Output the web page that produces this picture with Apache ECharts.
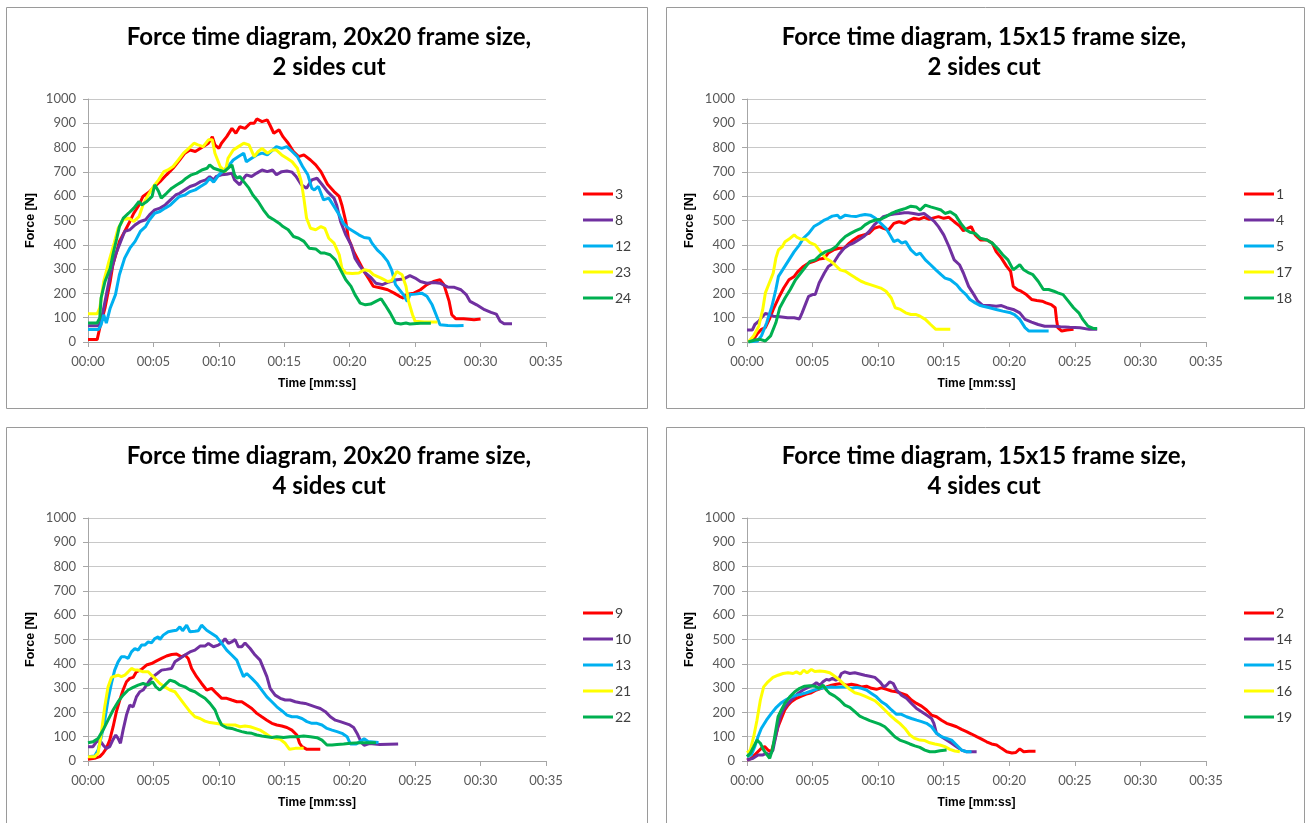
<!DOCTYPE html>
<html>
<head>
<meta charset="utf-8">
<script src="https://cdn.jsdelivr.net/npm/echarts@6/dist/echarts.min.js"></script>
<style>
html,body{margin:0;padding:0;background:#fff;}
#c{width:1306px;height:823px;}
</style>
</head>
<body>
<div id="c"></div>
<script>
// ---------- DATA (time in seconds, force in N) ----------
const titles = [
  'Force time diagram, 20x20 frame size,\n2 sides cut',
  'Force time diagram, 15x15 frame size,\n2 sides cut',
  'Force time diagram, 20x20 frame size,\n4 sides cut',
  'Force time diagram, 15x15 frame size,\n4 sides cut'
];
const xTicks = [0, 5, 10, 15, 20, 25, 30, 35];
const yTicks = [0, 100, 200, 300, 400, 500, 600, 700, 800, 900, 1000];
const colors = ['#FF0000', '#7030A0', '#00B0F0', '#FFFF00', '#00B050'];

// Panel 1: 20x20, 2 sides cut
const p1Names = ['3', '8', '12', '23', '24'];
const s3 = [[0,10],[0.7,10],[0.9,58],[1.3,140],[1.7,250],[1.9,318],[2.2,373],[2.4,414],[2.8,455],[3.2,496],[3.5,530],[3.9,564],[4.2,599],[4.7,619],[5.1,640],[5.5,660],[6.0,688],[6.5,715],[7.0,749],[7.4,777],[7.8,790],[8.2,784],[8.6,797],[9.0,811],[9.2,818],[9.5,845],[9.7,811],[10.0,797],[10.2,818],[10.6,845],[11.0,879],[11.3,859],[11.6,886],[12.0,879],[12.4,900],[12.7,900],[12.9,918],[13.3,907],[13.7,914],[13.9,893],[14.2,859],[14.6,873],[14.9,845],[15.3,818],[15.7,784],[16.1,763],[16.5,770],[17.0,749],[17.4,729],[17.8,701],[18.3,649],[18.8,619],[19.2,599],[19.4,564],[19.7,496],[19.9,427],[20.3,373],[20.7,332],[21.1,290],[21.5,256],[21.8,229],[22.4,222],[22.9,215],[23.4,201],[23.8,188],[24.1,181],[24.4,197],[24.9,201],[25.4,215],[25.9,236],[26.4,249],[26.9,256],[27.2,236],[27.6,167],[27.8,112],[28.1,96],[28.7,96],[29.5,92],[30.0,95]];
const s8 = [[0,67],[0.8,67],[1.0,85],[1.3,167],[1.7,277],[2.1,359],[2.5,414],[2.8,455],[3.2,462],[3.6,482],[4.0,496],[4.4,503],[4.7,523],[5.1,544],[5.5,551],[5.9,564],[6.3,585],[6.7,605],[7.0,612],[7.4,626],[7.8,640],[8.2,647],[8.6,660],[9.0,667],[9.3,681],[9.6,667],[9.8,681],[10.2,688],[10.6,690],[11.0,695],[11.2,667],[11.6,647],[11.9,674],[12.1,688],[12.5,681],[12.9,695],[13.3,708],[13.7,701],[14.1,708],[14.4,688],[14.8,701],[15.2,704],[15.6,699],[15.9,681],[16.3,647],[16.7,633],[17.1,667],[17.5,674],[17.9,647],[18.3,619],[18.8,592],[19.0,564],[19.3,496],[19.7,441],[20.1,400],[20.4,345],[20.8,311],[21.2,284],[21.6,266],[22.0,242],[22.5,236],[23.0,247],[23.6,256],[24.1,259],[24.6,273],[25.0,263],[25.4,249],[25.9,242],[26.4,245],[26.9,242],[27.5,226],[28.0,225],[28.5,215],[28.9,195],[29.2,167],[29.7,153],[30.3,133],[30.8,122],[31.2,115],[31.5,85],[31.8,75],[32.4,75]];
const s12 = [[0,51],[0.8,51],[1.0,71],[1.2,112],[1.4,78],[1.7,140],[2.1,195],[2.4,277],[2.8,345],[3.2,386],[3.6,414],[4.0,455],[4.4,475],[4.7,503],[5.1,530],[5.5,537],[5.9,551],[6.3,564],[6.7,585],[7.0,599],[7.4,605],[7.8,619],[8.2,626],[8.6,640],[9.0,653],[9.3,674],[9.6,658],[10.0,688],[10.4,708],[10.7,722],[11.1,749],[11.5,763],[11.9,777],[12.1,742],[12.5,756],[12.9,770],[13.3,777],[13.7,770],[14.1,790],[14.4,804],[14.8,797],[15.2,804],[15.6,784],[16.0,763],[16.4,722],[16.8,688],[17.1,633],[17.3,626],[17.6,640],[18.0,585],[18.4,592],[18.8,558],[19.2,523],[19.5,489],[19.9,468],[20.3,455],[20.7,441],[21.1,430],[21.5,427],[21.7,407],[22.1,379],[22.5,359],[22.9,332],[23.2,297],[23.5,236],[23.8,215],[24.1,195],[24.4,167],[24.6,195],[25.0,197],[25.5,201],[25.9,188],[26.3,153],[26.7,99],[26.9,71],[27.5,68],[28.2,67],[28.7,68]];
const s23 = [[0,116],[0.7,116],[0.9,140],[1.2,249],[1.6,332],[2.0,407],[2.3,468],[2.7,503],[3.1,510],[3.5,496],[3.9,516],[4.2,564],[4.6,605],[5.0,640],[5.4,667],[5.8,701],[6.1,708],[6.5,722],[6.9,749],[7.3,777],[7.7,797],[8.1,818],[8.4,811],[8.8,804],[9.2,832],[9.5,832],[9.7,777],[10.1,722],[10.5,701],[10.7,756],[11.1,790],[11.5,804],[11.9,818],[12.3,811],[12.7,763],[13.0,784],[13.3,797],[13.7,777],[14.1,790],[14.4,790],[14.8,770],[15.2,756],[15.6,742],[16.0,715],[16.3,660],[16.5,590],[16.7,510],[17.0,468],[17.4,462],[17.8,475],[18.1,468],[18.4,427],[18.8,407],[19.2,359],[19.4,304],[19.7,284],[20.2,282],[20.7,284],[21.1,297],[21.5,293],[21.8,277],[22.4,263],[22.9,249],[23.2,252],[23.6,290],[24.0,277],[24.3,229],[24.5,167],[24.8,112],[25.0,85],[25.7,82],[26.7,82]];
const s24 = [[0,78],[0.7,78],[0.9,99],[1.0,181],[1.3,249],[1.7,304],[1.9,359],[2.2,427],[2.4,475],[2.7,510],[3.1,530],[3.5,551],[3.9,578],[4.1,564],[4.5,578],[4.9,599],[5.1,647],[5.4,619],[5.6,592],[6.0,612],[6.4,633],[6.8,647],[7.2,660],[7.5,674],[7.9,688],[8.3,695],[8.7,708],[9.1,715],[9.3,729],[9.6,715],[10.0,708],[10.4,701],[10.7,715],[11.0,729],[11.2,688],[11.4,674],[11.6,681],[11.9,660],[12.3,633],[12.6,605],[13.0,578],[13.4,544],[13.8,516],[14.2,503],[14.6,489],[14.9,475],[15.3,462],[15.7,434],[16.1,427],[16.5,414],[16.9,386],[17.4,383],[17.8,366],[18.1,366],[18.5,359],[18.9,338],[19.3,297],[19.7,256],[20.1,229],[20.4,195],[20.8,160],[21.2,153],[21.6,156],[22.0,167],[22.4,178],[22.7,153],[23.1,119],[23.5,78],[23.9,74],[24.3,78],[24.6,74],[25.4,77],[26.2,77]];

// Panel 2: 15x15, 2 sides cut
const p2Names = ['1', '4', '5', '17', '18'];
const s1 = [[0.1,0],[0.5,11],[0.8,35],[1.1,52],[1.4,59],[1.7,93],[2.0,134],[2.4,181],[2.8,222],[3.2,256],[3.6,270],[3.9,291],[4.3,311],[4.7,325],[5.1,332],[5.5,341],[5.9,345],[6.2,366],[6.6,379],[7.0,386],[7.4,386],[7.8,407],[8.1,420],[8.5,434],[8.9,441],[9.3,447],[9.7,468],[10.1,475],[10.4,468],[10.8,461],[11.2,488],[11.6,495],[12.0,488],[12.3,499],[12.7,509],[13.1,505],[13.5,513],[13.9,505],[14.3,512],[14.6,516],[15.0,509],[15.4,513],[15.8,495],[16.2,478],[16.5,458],[16.9,470],[17.1,475],[17.4,441],[17.8,420],[18.3,420],[18.7,407],[19.0,372],[19.4,345],[19.8,311],[20.1,291],[20.3,229],[20.6,216],[20.9,209],[21.3,195],[21.7,175],[22.1,171],[22.5,168],[22.8,161],[23.2,154],[23.5,141],[23.6,93],[23.7,59],[24.0,45],[24.4,49],[24.9,52]];
const s4 = [[0,49],[0.4,49],[0.6,72],[0.9,86],[1.1,100],[1.4,117],[1.7,113],[2.0,106],[2.5,104],[3.1,100],[3.6,100],[4.0,95],[4.2,120],[4.5,161],[4.7,188],[5.0,195],[5.2,195],[5.5,243],[5.9,284],[6.2,311],[6.6,325],[7.0,359],[7.4,386],[7.8,400],[8.1,407],[8.5,420],[8.9,434],[9.3,454],[9.7,482],[10.1,502],[10.4,516],[10.8,522],[11.2,527],[11.6,529],[12.0,532],[12.3,532],[12.7,529],[13.1,525],[13.5,529],[13.9,513],[14.3,495],[14.6,475],[15.0,441],[15.4,393],[15.8,338],[16.2,318],[16.5,284],[16.9,229],[17.3,195],[17.6,168],[18.0,150],[18.5,150],[19.0,147],[19.4,150],[19.8,141],[20.3,134],[20.8,120],[21.2,93],[21.7,82],[22.2,72],[22.7,65],[23.4,65],[23.9,63],[24.6,61],[25.4,59],[26.1,52],[26.7,52]];
const s5 = [[0.1,0],[0.8,4],[1.1,25],[1.5,79],[1.9,147],[2.2,216],[2.4,270],[2.8,304],[3.2,338],[3.6,372],[4.0,400],[4.3,427],[4.7,447],[5.1,475],[5.5,488],[5.9,502],[6.2,509],[6.5,518],[6.9,522],[7.1,509],[7.5,522],[7.9,518],[8.3,516],[8.7,522],[9.0,525],[9.4,522],[9.8,509],[10.2,488],[10.6,468],[10.9,441],[11.2,413],[11.5,420],[11.8,407],[12.1,413],[12.5,379],[12.9,359],[13.2,366],[13.6,338],[14.0,318],[14.4,297],[14.8,277],[15.1,263],[15.5,256],[16.0,235],[16.3,215],[16.7,195],[17.0,175],[17.4,161],[17.8,150],[18.0,147],[18.5,141],[19.0,134],[19.5,127],[20.1,120],[20.4,113],[20.8,93],[21.2,59],[21.5,45],[22.0,45],[22.5,45],[23.0,45]];
const s17 = [[0.1,0],[0.5,25],[0.9,65],[1.2,134],[1.4,202],[1.7,243],[2.0,284],[2.2,345],[2.4,379],[2.7,393],[2.9,413],[3.3,427],[3.6,441],[3.8,431],[4.1,423],[4.5,423],[4.8,409],[5.2,400],[5.6,372],[6.0,345],[6.4,332],[6.7,318],[7.1,297],[7.5,291],[7.9,277],[8.3,263],[8.7,250],[9.0,243],[9.4,236],[9.8,229],[10.2,222],[10.6,209],[11.0,181],[11.3,141],[11.7,134],[12.1,120],[12.5,113],[12.9,113],[13.2,106],[13.6,93],[14.0,72],[14.4,52],[14.8,52],[15.5,52]];
const s18 = [[0.1,0],[0.6,8],[1.0,11],[1.4,4],[1.8,25],[2.2,79],[2.5,141],[2.9,181],[3.3,216],[3.7,256],[4.1,284],[4.5,311],[4.8,332],[5.2,338],[5.6,359],[6.0,372],[6.4,379],[6.8,393],[7.1,413],[7.5,434],[7.9,447],[8.3,458],[8.7,468],[9.0,482],[9.4,495],[9.8,502],[10.2,505],[10.6,516],[11.0,529],[11.3,536],[11.7,543],[12.1,550],[12.5,559],[12.9,556],[13.2,543],[13.6,563],[14.0,556],[14.4,550],[14.8,543],[15.1,529],[15.5,536],[15.9,522],[16.3,488],[16.7,461],[17.0,452],[17.4,447],[17.8,427],[18.3,420],[18.7,407],[19.2,379],[19.5,359],[19.9,338],[20.3,297],[20.8,318],[21.1,297],[21.5,284],[21.8,277],[22.2,250],[22.6,216],[23.0,216],[23.4,209],[23.7,202],[24.1,195],[24.5,168],[24.9,141],[25.3,120],[25.6,93],[26.0,65],[26.4,56],[26.7,56]];

// Panel 3: 20x20, 4 sides cut
const p3Names = ['9', '10', '13', '21', '22'];
const s9 = [[0,7],[0.5,11],[0.9,18],[1.15,32],[1.4,52],[1.66,86],[1.92,141],[2.17,203],[2.43,251],[2.68,292],[2.94,326],[3.19,340],[3.45,344],[3.7,367],[4.09,377],[4.47,395],[4.85,401],[5.24,412],[5.62,422],[6.0,432],[6.39,438],[6.77,440],[7.15,429],[7.41,436],[7.66,422],[7.92,381],[8.3,347],[8.68,319],[9.07,292],[9.45,299],[9.83,278],[10.22,258],[10.6,258],[10.98,251],[11.37,244],[11.75,244],[12.13,230],[12.52,216],[12.9,196],[13.28,182],[13.67,168],[14.05,155],[14.43,148],[14.81,144],[15.2,138],[15.58,127],[15.96,107],[16.17,73],[16.35,59],[16.73,48],[17.24,48],[17.75,48]];
const s10 = [[0,59],[0.38,59],[0.64,79],[0.89,86],[1.15,66],[1.4,52],[1.66,59],[1.92,89],[2.12,107],[2.3,93],[2.48,73],[2.68,127],[2.94,189],[3.19,230],[3.45,223],[3.7,264],[3.96,285],[4.21,292],[4.47,312],[4.73,333],[4.98,347],[5.29,360],[5.62,374],[6.0,377],[6.39,381],[6.64,408],[7.02,422],[7.41,436],[7.79,449],[8.17,456],[8.56,473],[8.94,473],[9.2,484],[9.58,470],[9.96,477],[10.22,486],[10.47,504],[10.73,484],[10.98,490],[11.24,500],[11.49,470],[11.75,470],[12.0,486],[12.39,463],[12.77,436],[13.15,415],[13.41,381],[13.67,347],[13.92,299],[14.3,271],[14.69,258],[15.07,251],[15.45,251],[15.84,244],[16.22,240],[16.6,237],[16.99,230],[17.37,223],[17.75,216],[18.14,203],[18.52,182],[18.9,168],[19.28,162],[19.67,155],[19.95,150],[20.3,138],[20.6,110],[20.9,75],[21.1,65],[21.5,72],[22.3,68],[23.7,70]];
const s13 = [[0,18],[0.51,21],[0.77,45],[1.02,100],[1.28,168],[1.53,251],[1.79,319],[2.04,374],[2.3,408],[2.55,429],[2.81,429],[3.07,422],[3.32,449],[3.58,463],[3.83,456],[4.09,477],[4.34,477],[4.6,490],[4.85,486],[5.11,504],[5.36,511],[5.49,500],[5.75,518],[6.13,532],[6.51,536],[6.77,538],[7.02,552],[7.23,536],[7.54,559],[7.79,532],[8.17,534],[8.43,536],[8.68,559],[9.07,538],[9.45,525],[9.83,511],[10.22,484],[10.6,456],[10.98,436],[11.37,415],[11.62,381],[11.88,347],[12.13,360],[12.52,340],[12.9,319],[13.28,292],[13.67,264],[14.05,244],[14.43,223],[14.81,207],[15.2,189],[15.58,182],[15.96,182],[16.35,175],[16.73,162],[17.11,155],[17.5,155],[17.88,148],[18.26,134],[18.65,127],[19.03,121],[19.41,114],[19.8,100],[20.05,70],[20.5,70],[21.1,92],[21.4,80],[21.8,78],[22.2,76]];
const s21 = [[0,18],[0.51,18],[0.77,32],[1.02,114],[1.28,223],[1.53,305],[1.79,344],[2.04,349],[2.3,353],[2.55,347],[2.81,353],[3.07,367],[3.32,381],[3.58,374],[3.83,374],[4.21,367],[4.6,367],[4.85,353],[5.11,340],[5.49,319],[5.87,305],[6.26,292],[6.64,285],[7.02,258],[7.41,230],[7.79,203],[8.17,182],[8.56,175],[8.94,164],[9.32,158],[9.71,155],[10.09,152],[10.47,148],[10.86,148],[11.24,148],[11.62,141],[12.0,144],[12.39,141],[12.77,134],[13.15,127],[13.54,114],[13.92,100],[14.3,93],[14.69,89],[15.07,73],[15.4,48],[15.84,52],[16.48,52]];
const s22 = [[0,75],[0.38,79],[0.77,93],[1.15,127],[1.53,168],[1.92,210],[2.3,244],[2.68,271],[3.07,292],[3.45,303],[3.83,312],[4.21,319],[4.6,312],[4.93,326],[5.19,305],[5.49,292],[5.87,312],[6.26,333],[6.64,326],[7.02,312],[7.41,305],[7.79,292],[8.17,285],[8.56,271],[8.94,258],[9.32,237],[9.71,210],[9.96,175],[10.22,148],[10.6,137],[10.98,134],[11.37,127],[11.75,121],[12.13,116],[12.52,114],[12.9,107],[13.28,103],[13.67,100],[14.05,97],[14.43,100],[14.94,97],[15.45,100],[15.96,100],[16.48,103],[16.99,100],[17.5,96],[17.88,86],[18.26,66],[18.65,66],[19.03,68],[19.54,70],[20.05,73],[20.8,75],[21.5,75],[22.0,75]];

// Panel 4: 15x15, 4 sides cut
const p4Names = ['2', '14', '15', '16', '19'];
const s2 = [[0,4],[0.33,11],[0.71,32],[1.09,52],[1.35,59],[1.6,45],[1.86,38],[2.11,86],[2.37,141],[2.62,175],[2.88,210],[3.13,230],[3.38,244],[3.77,258],[4.15,267],[4.53,275],[4.91,281],[5.29,292],[5.67,299],[6.06,305],[6.44,312],[6.82,316],[7.2,319],[7.58,312],[7.96,316],[8.35,312],[8.73,305],[9.11,308],[9.49,299],[9.87,295],[10.25,301],[10.64,295],[11.02,288],[11.4,285],[11.78,278],[12.16,271],[12.54,251],[12.93,237],[13.31,226],[13.69,210],[14.07,189],[14.45,182],[14.83,168],[15.22,155],[15.6,148],[15.98,141],[16.36,130],[16.74,121],[17.12,111],[17.51,100],[17.89,90],[18.27,79],[18.65,70],[19.03,66],[19.41,52],[19.8,38],[20.2,33],[20.5,35],[20.8,50],[21.1,38],[21.5,40],[22.0,40]];
const s14 = [[0,4],[0.46,11],[0.84,25],[1.22,25],[1.48,32],[1.73,25],[1.98,45],[2.24,114],[2.49,175],[2.75,210],[3.13,237],[3.51,258],[3.89,278],[4.27,292],[4.66,303],[5.04,312],[5.29,322],[5.55,312],[5.8,326],[6.06,336],[6.26,333],[6.51,340],[6.77,333],[7.02,340],[7.2,360],[7.46,367],[7.84,360],[8.22,363],[8.6,358],[8.98,353],[9.36,349],[9.75,344],[10.13,326],[10.43,305],[10.64,312],[10.89,326],[11.15,319],[11.4,292],[11.78,271],[12.16,258],[12.54,237],[12.93,216],[13.31,203],[13.69,189],[14.07,175],[14.25,155],[14.45,114],[14.83,100],[15.22,86],[15.6,73],[15.98,59],[16.36,45],[16.74,38],[17.12,38],[17.51,38]];
const s15 = [[0,18],[0.33,25],[0.59,59],[0.84,100],[1.09,134],[1.48,168],[1.86,196],[2.24,221],[2.62,240],[3.0,253],[3.38,264],[3.77,271],[4.15,275],[4.53,281],[4.91,288],[5.29,295],[5.67,299],[6.06,303],[6.44,305],[6.82,303],[7.2,305],[7.58,305],[7.96,299],[8.35,303],[8.73,299],[9.11,292],[9.49,278],[9.87,264],[10.25,244],[10.64,230],[11.02,210],[11.4,192],[11.78,192],[12.16,182],[12.54,175],[12.93,168],[13.31,162],[13.69,155],[14.07,141],[14.45,114],[14.83,100],[15.22,93],[15.6,86],[15.98,66],[16.36,45],[16.74,38],[17.12,38]];
const s16 = [[0,34],[0.25,45],[0.51,100],[0.76,168],[1.02,251],[1.27,305],[1.6,326],[1.98,344],[2.37,353],[2.75,360],[3.13,363],[3.51,360],[3.77,367],[4.07,358],[4.33,374],[4.58,363],[4.91,377],[5.17,368],[5.55,370],[5.93,368],[6.31,363],[6.69,349],[7.07,333],[7.46,312],[7.84,295],[8.22,281],[8.6,275],[8.98,267],[9.36,258],[9.75,248],[10.13,230],[10.51,210],[10.89,189],[11.27,171],[11.65,155],[12.04,134],[12.42,107],[12.8,93],[13.18,86],[13.56,84],[13.94,75],[14.33,70],[14.71,66],[15.09,59],[15.47,48],[15.85,41],[16.23,38]];
const s19 = [[0,18],[0.25,32],[0.51,59],[0.76,86],[1.02,73],[1.27,45],[1.53,25],[1.73,11],[1.93,45],[2.11,100],[2.37,182],[2.62,210],[2.88,237],[3.26,264],[3.64,285],[4.02,299],[4.4,308],[4.78,310],[5.17,308],[5.5,299],[5.8,312],[6.06,292],[6.31,278],[6.69,267],[7.07,251],[7.46,230],[7.84,221],[8.22,203],[8.6,185],[8.98,175],[9.36,166],[9.75,159],[10.13,152],[10.51,141],[10.89,121],[11.27,100],[11.65,86],[12.04,79],[12.42,70],[12.8,62],[13.18,56],[13.56,45],[13.94,38],[14.33,38],[14.71,42],[15.22,45]];

// ---------- CHART ----------
const panels = [
  { names: p1Names, data: [s3, s8, s12, s23, s24] },
  { names: p2Names, data: [s1, s4, s5, s17, s18] },
  { names: p3Names, data: [s9, s10, s13, s21, s22] },
  { names: p4Names, data: [s2, s14, s15, s16, s19] }
];

// layout (pixels)
const grids = [
  { left: 88, top: 99, width: 458, height: 243 },
  { left: 747, top: 99, width: 459, height: 243 },
  { left: 88, top: 518, width: 458, height: 243 },
  { left: 747, top: 518, width: 459, height: 243 }
];
const boxes = [
  { x: 6.5, y: 7.5, w: 641, h: 401 },
  { x: 666.5, y: 7.5, w: 638, h: 401 },
  { x: 6.5, y: 427.5, w: 641, h: 410 },
  { x: 666.5, y: 427.5, w: 638, h: 410 }
];
const titlePos = [
  { x: 329, y: 22 },
  { x: 984, y: 22 },
  { x: 329, y: 441 },
  { x: 984, y: 441 }
];
const legendPos = [
  { x: 583, y: 187 },
  { x: 1244, y: 187 },
  { x: 583, y: 606 },
  { x: 1244, y: 606 }
];

const FONT = 'Lato';
const BOLDFONT = 'Liberation Sans';
const pad2 = v => (v < 10 ? '0' : '') + v;

const option = {
  backgroundColor: '#ffffff',
  animation: false,
  title: titles.map((t, i) => ({
    text: t,
    left: titlePos[i].x,
    top: titlePos[i].y,
    textAlign: 'center',
    padding: 0,
    textStyle: { fontFamily: 'Lato', fontSize: 24, fontWeight: 'bold', color: '#000', lineHeight: 30 }
  })),
  legend: panels.map((p, i) => ({
    data: p.names.map(n => ({ name: n, icon: 'rect' })),
    orient: 'vertical',
    left: legendPos[i].x,
    top: legendPos[i].y,
    itemWidth: 30,
    itemHeight: 3,
    itemGap: 12,
    padding: 0,
    selectedMode: false,
    textStyle: { fontFamily: FONT, fontSize: 14, color: '#404040', padding: [0, 0, 0, -3] }
  })),
  grid: grids.map(g => Object.assign({ containLabel: false }, g)),
  xAxis: grids.map((g, i) => ({
    type: 'value', gridIndex: i, min: 0, max: 35, interval: 5,
    name: 'Time [mm:ss]', nameLocation: 'middle', nameGap: 36,
    nameTextStyle: { fontFamily: BOLDFONT, fontSize: 12, fontWeight: 'bold', color: '#000' },
    axisLine: { show: true, lineStyle: { color: '#a6a6a6', width: 1 } },
    axisTick: { show: true, length: 5, lineStyle: { color: '#a6a6a6' } },
    splitLine: { show: false },
    axisLabel: { fontFamily: FONT, fontSize: 13, color: '#595959', margin: 13,
      formatter: v => '00:' + pad2(v) }
  })),
  yAxis: grids.map((g, i) => ({
    type: 'value', gridIndex: i, min: 0, max: 1000, interval: 100,
    name: 'Force [N]', nameLocation: 'middle', nameGap: 51,
    nameTextStyle: { fontFamily: BOLDFONT, fontSize: 12.5, fontWeight: 'bold', color: '#000' },
    axisLine: { show: true, lineStyle: { color: '#a6a6a6', width: 1 } },
    axisTick: { show: true, length: 5, lineStyle: { color: '#a6a6a6' } },
    splitLine: { show: true, lineStyle: { color: '#c8c8c8', width: 1 } },
    axisLabel: { fontFamily: FONT, fontSize: 13, color: '#595959', margin: 12,
      formatter: v => String(v) }
  })),
  series: [],
  graphic: boxes.map(b => ({
    type: 'rect', silent: true, z: -10,
    shape: { x: b.x, y: b.y, width: b.w, height: b.h },
    style: { fill: '#fff', stroke: '#9a9a9a', lineWidth: 1 }
  }))
};

panels.forEach((p, i) => {
  p.data.forEach((d, k) => {
    option.series.push({
      type: 'line', name: p.names[k], xAxisIndex: i, yAxisIndex: i,
      data: d, symbol: 'none', smooth: false,
      lineStyle: { color: colors[k], width: 3 },
      itemStyle: { color: colors[k] }
    });
  });
});

const chart = echarts.init(document.getElementById('c'), null, { renderer: 'canvas' });
chart.setOption(option);
</script>
</body>
</html>
